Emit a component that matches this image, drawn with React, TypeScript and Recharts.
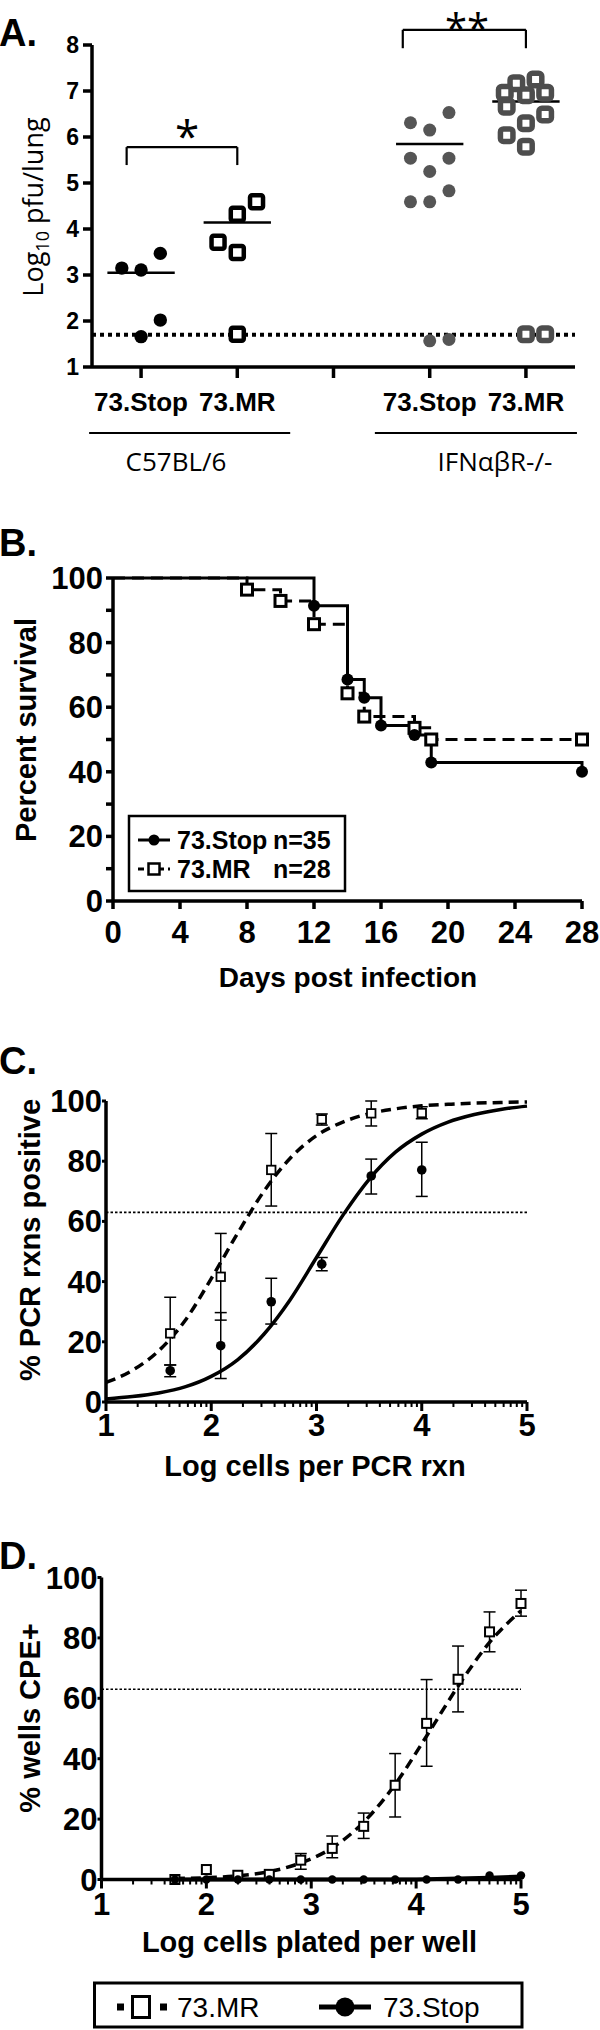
import React from 'react';
import { ComposedChart, Scatter, Line, XAxis, YAxis, ReferenceLine, ErrorBar } from 'recharts';

const FONT = "'Liberation Sans', Arial, Helvetica, sans-serif";
const SOFT = "'Open Sans', 'Liberation Sans', sans-serif";

// ---------- A. lung titres (log10 pfu/lung) ----------
const aCategoryTicks = [1, 2, 3, 4, 5];
const aCategoryLabels = ['73.Stop', '73.MR', '', '73.Stop', '73.MR'];
const aYTicks = [1, 2, 3, 4, 5, 6, 7, 8];
const c57StopX = [0.8, 1.0, 1.2, 1.2, 1.0];
const c57StopY = [3.15, 3.11, 3.47, 2.02, 1.66];
const c57MrX = [1.8, 2.0, 2.0, 2.2, 2.0];
const c57MrY = [3.71, 3.49, 4.32, 4.59, 1.71];
const ifnStopX = [3.8, 4.0, 4.2, 3.8, 4.2, 4.0, 4.2, 3.8, 4.0, 4.0, 4.2];
const ifnStopY = [6.31, 6.15, 6.53, 5.54, 5.54, 5.25, 4.83, 4.59, 4.59, 1.57, 1.6];
const ifnMrX = [5.1, 4.9, 4.78, 5.0, 5.2, 4.8, 5.2, 5.0, 4.8, 5.0, 5.0, 5.2];
const ifnMrY = [7.25, 7.17, 6.96, 6.91, 6.96, 6.66, 6.49, 6.3, 6.04, 5.79, 1.71, 1.71];
const aGroupCenters = [1, 2, 4, 5];
const aGroupMeans = [3.05, 4.14, 5.85, 6.77];
const aDetectionLimit = 1.7;

// ---------- B. survival ----------
const bDayTicks = [0, 4, 8, 12, 16, 20, 24, 28];
const bPercentTicks = [0, 10, 20, 30, 40, 50, 60, 70, 80, 90, 100];
const stopDays = [0, 12, 14, 15, 16, 18, 19, 28];
const stopSurvival = [100, 91.4, 68.6, 62.9, 54.3, 51.4, 42.9, 40];
const mrDays = [0, 8, 10, 12, 14, 15, 18, 19, 28];
const mrSurvival = [100, 96.4, 92.9, 85.7, 64.3, 57.1, 53.6, 50, 50];

// ---------- C. PCR limiting dilution ----------
const logMajor = [1, 2, 3, 4, 5];
const logMinorOffsets = [0.301, 0.477, 0.602, 0.699, 0.778, 0.845, 0.903, 0.954];
const pctTicks = [0, 20, 40, 60, 80, 100];
const pcrX = [1.61, 2.09, 2.57, 3.05, 3.52, 4.0];
const pcrMr = [22.8, 41.6, 77.1, 93.9, 95.9, 96.0];
const pcrMrHi = [34.8, 56.0, 89.2, 95.7, 100, 98.1];
const pcrMrLo = [12.3, 27.2, 65.1, 92.0, 91.7, 94.1];
const pcrStop = [10.4, 18.7, 33.3, 45.8, 75.1, 77.1];
const pcrStopHi = [12.3, 29.7, 41.1, 48.0, 80.7, 86.3];
const pcrStopLo = [8.4, 7.8, 25.9, 43.6, 69.1, 68.3];
const pcrFitX = [1, 1.25, 1.5, 1.75, 2, 2.25, 2.5, 2.75, 3, 3.25, 3.5, 3.75, 4, 4.25, 4.5, 4.75, 5];
const pcrMrFit = [6.5, 10.5, 17, 27, 41, 56, 70, 81, 88.5, 93, 95.8, 97.4, 98.4, 98.9, 99.3, 99.5, 99.7];
const pcrStopFit = [1.0, 1.8, 3.0, 5.0, 8.5, 14, 22.5, 34, 48, 62, 74, 83, 89, 93, 95.5, 97.2, 98.3];
const threshold = 63;

// ---------- D. CPE limiting dilution ----------
const cpeX = [1.7, 2.0, 2.3, 2.6, 2.9, 3.2, 3.5, 3.8, 4.1, 4.4, 4.7, 5.0];
const cpeMr = [0, 3.3, 1.4, 1.7, 6.4, 10.3, 17.6, 31.2, 51.7, 66.3, 82.0, 91.4];
const cpeMrHi = [null, null, null, null, 8.6, 14.4, 22.0, 41.7, 66.2, 77.3, 88.6, 95.8];
const cpeMrLo = [null, null, null, null, 3.4, 7.2, 13.6, 20.7, 37.5, 55.5, 75.4, 87.2];
const cpeStop = [0, 0, 0, 0, 0, 0, 0, 0, 0, 0, 1.3, 1.3];
const cpeMrFit = [0.3, 0.6, 1.2, 2.6, 5.5, 10.5, 19, 31.5, 47.5, 64, 78.5, 89];
const cpeStopFit = [0, 0, 0, 0, 0, 0, 0, 0, 0.1, 0.3, 0.6, 1.0];

const pts = (xs: number[], ys: number[]) => xs.map((x, i) => ({ x, y: ys[i] }));
const withErr = (xs: number[], ys: number[], hi: (number | null)[], lo: (number | null)[]) =>
  xs.map((x, i) => ({
    x,
    y: ys[i],
    err: hi[i] == null ? undefined : [ys[i] - (lo[i] as number), (hi[i] as number) - ys[i]],
  }));

const logTicks = [...logMajor, ...[1, 2, 3, 4].flatMap((d) => logMinorOffsets.map((o) => d + o))].sort((a, b) => a - b);

const axisStyle = { stroke: '#000', strokeWidth: 3.5 };
const bigTick = { fill: '#000', fontSize: 31, fontWeight: 700, fontFamily: FONT };

const circle = (fill: string, r: number) => (p: any) => <circle cx={p.cx} cy={p.cy} r={r} fill={fill} />;
const square = (stroke: string, s: number, sw: number, rx = 0) => (p: any) => (
  <rect x={p.cx - s / 2} y={p.cy - s / 2} width={s} height={s} rx={rx} fill="#fff" stroke={stroke} strokeWidth={sw} />
);

// log axis tick: long marks on decades, short ones between
const LogTick = (props: any) => {
  const { x, y, payload, baseline } = props;
  const v = payload.value;
  const major = Math.abs(v - Math.round(v)) < 1e-6;
  return (
    <g>
      <line x1={x} y1={y} x2={x} y2={y + (major ? 9 : 5)} stroke="#000" strokeWidth={major ? 3 : 2} />
      {major && (
        <text x={x} y={y + baseline} textAnchor="middle" fontSize={31} fontWeight={700} fontFamily={FONT} fill="#000">
          {Math.round(v)}
        </text>
      )}
    </g>
  );
};

function PanelA() {
  const seg = (x1: number, y1: number, x2: number, y2: number, w = 2.2) => (
    <ReferenceLine
      key={`${x1}-${y1}-${x2}-${y2}`}
      segment={[{ x: x1, y: y1 }, { x: x2, y: y2 }]}
      stroke="#000"
      strokeWidth={w}
      ifOverflow="visible"
    />
  );
  return (
    <ComposedChart width={600} height={440} margin={{ top: 45, right: 25, left: 0, bottom: 0 }}>
      <XAxis
        type="number"
        dataKey="x"
        domain={[0.49, 5.51]}
        ticks={aCategoryTicks}
        interval={0}
        tickFormatter={(v: number) => aCategoryLabels[aCategoryTicks.indexOf(v)]}
        height={73}
        axisLine={axisStyle}
        tickLine={axisStyle}
        tickSize={11}
        tickMargin={15}
        tick={{ fill: '#000', fontSize: 26, fontWeight: 700, fontFamily: FONT }}
      />
      <YAxis
        type="number"
        dataKey="y"
        domain={[1, 8]}
        ticks={aYTicks}
        interval={0}
        width={92}
        axisLine={axisStyle}
        tickLine={axisStyle}
        tickSize={9}
        tickMargin={4}
        tick={{ fill: '#000', fontSize: 23, fontWeight: 700, fontFamily: FONT }}
      />
      <ReferenceLine y={aDetectionLimit} stroke="#000" strokeWidth={4} strokeDasharray="4 4" />
      {aGroupCenters.map((c, i) => seg(c - 0.35, aGroupMeans[i], c + 0.35, aGroupMeans[i], 2.5))}
      {seg(0.85, 5.78, 2.0, 5.78)}
      {seg(0.85, 5.78, 0.85, 5.39)}
      {seg(2.0, 5.78, 2.0, 5.39)}
      {seg(3.72, 8.33, 5.0, 8.33)}
      {seg(3.72, 8.33, 3.72, 7.93)}
      {seg(5.0, 8.33, 5.0, 7.93)}
      {seg(0.46, -0.435, 2.55, -0.435)}
      {seg(3.43, -0.435, 5.53, -0.435)}
      <Scatter data={pts(c57StopX, c57StopY)} shape={circle('#000', 6.7)} isAnimationActive={false} />
      <Scatter data={pts(c57MrX, c57MrY)} shape={square('#000', 13, 4.5, 2)} isAnimationActive={false} />
      <Scatter data={pts(ifnStopX, ifnStopY)} shape={circle('#555', 6.5)} isAnimationActive={false} />
      <Scatter data={pts(ifnMrX, ifnMrY)} shape={square('#4d4d4d', 12.5, 5.5, 3)} isAnimationActive={false} />
    </ComposedChart>
  );
}

function PanelB() {
  const stopDot = (p: any) =>
    p.index === 0 ? <g key={`sd${p.index}`} /> : <circle key={`sd${p.index}`} cx={p.cx} cy={p.cy} r={6} fill="#000" />;
  const mrDot = (p: any) =>
    p.index === 0 ? (
      <g key={`md${p.index}`} />
    ) : (
      <rect key={`md${p.index}`} x={p.cx - 5.5} y={p.cy - 5.5} width={11} height={11} fill="#fff" stroke="#000" strokeWidth={3} />
    );
  return (
    <ComposedChart width={600} height={440} margin={{ top: 38, right: 18, left: 0, bottom: 0 }}>
      <XAxis
        type="number"
        dataKey="x"
        domain={[0, 28]}
        ticks={bDayTicks}
        interval={0}
        height={79}
        axisLine={axisStyle}
        tickLine={axisStyle}
        tickSize={8}
        tickMargin={12}
        tick={bigTick}
      />
      <YAxis
        type="number"
        dataKey="y"
        domain={[0, 100]}
        ticks={bPercentTicks}
        interval={0}
        tickFormatter={(v: number) => (v % 20 === 0 ? String(v) : '')}
        width={113}
        axisLine={axisStyle}
        tickLine={axisStyle}
        tickSize={7}
        tickMargin={3}
        tick={bigTick}
      />
      <Line
        data={pts(mrDays, mrSurvival)}
        dataKey="y"
        type="stepAfter"
        stroke="#000"
        strokeWidth={3}
        strokeDasharray="12 7"
        dot={mrDot}
        isAnimationActive={false}
      />
      <Line
        data={pts(stopDays, stopSurvival)}
        dataKey="y"
        type="stepAfter"
        stroke="#000"
        strokeWidth={3}
        dot={stopDot}
        isAnimationActive={false}
      />
    </ComposedChart>
  );
}

function DilutionPanel(props: {
  height: number;
  top: number;
  yAxisWidth: number;
  right: number;
  xAxisHeight: number;
  baseline: number;
  children: React.ReactNode;
}) {
  return (
    <ComposedChart width={600} height={props.height} margin={{ top: props.top, right: props.right, left: 0, bottom: 0 }}>
      <XAxis
        type="number"
        dataKey="x"
        domain={[1, 5]}
        ticks={logTicks}
        interval={0}
        height={props.xAxisHeight}
        axisLine={axisStyle}
        tickLine={false}
        tickSize={0}
        tickMargin={0}
        tick={(p: any) => <LogTick {...p} baseline={props.baseline} />}
      />
      <YAxis
        type="number"
        dataKey="y"
        domain={[0, 100]}
        ticks={pctTicks}
        interval={0}
        width={props.yAxisWidth}
        axisLine={axisStyle}
        tickLine={{ stroke: '#000', strokeWidth: 3 }}
        tickSize={4}
        tickMargin={0}
        tick={bigTick}
      />
      <ReferenceLine y={threshold} stroke="#000" strokeWidth={1.6} strokeDasharray="2.5 2" />
      {props.children}
    </ComposedChart>
  );
}

function PanelC() {
  return (
    <DilutionPanel height={420} top={21} yAxisWidth={106} right={73} xAxisHeight={98} baseline={34}>
      <Line data={pts(pcrFitX, pcrMrFit)} dataKey="y" type="monotone" stroke="#000" strokeWidth={3.5} strokeDasharray="10 6" dot={false} isAnimationActive={false} />
      <Line data={pts(pcrFitX, pcrStopFit)} dataKey="y" type="monotone" stroke="#000" strokeWidth={3.5} dot={false} isAnimationActive={false} />
      <Scatter data={withErr(pcrX, pcrMr, pcrMrHi, pcrMrLo)} shape={square('#000', 8.5, 1.8)} isAnimationActive={false}>
        <ErrorBar dataKey="err" direction="y" width={6} stroke="#000" strokeWidth={1.5} />
      </Scatter>
      <Scatter data={withErr(pcrX, pcrStop, pcrStopHi, pcrStopLo)} shape={circle('#000', 4.8)} isAnimationActive={false}>
        <ErrorBar dataKey="err" direction="y" width={6} stroke="#000" strokeWidth={1.5} />
      </Scatter>
    </DilutionPanel>
  );
}

function PanelD() {
  return (
    <DilutionPanel height={400} top={37.5} yAxisWidth={101.5} right={79} xAxisHeight={60.5} baseline={35}>
      <Line data={pts(cpeX, cpeMrFit)} dataKey="y" type="monotone" stroke="#000" strokeWidth={3.5} strokeDasharray="10 6" dot={false} isAnimationActive={false} />
      <Line data={pts(cpeX, cpeStopFit)} dataKey="y" type="monotone" stroke="#000" strokeWidth={4} dot={false} isAnimationActive={false} />
      <Scatter data={withErr(cpeX, cpeMr, cpeMrHi, cpeMrLo)} shape={square('#000', 9, 2)} isAnimationActive={false}>
        <ErrorBar dataKey="err" direction="y" width={6} stroke="#000" strokeWidth={1.5} />
      </Scatter>
      <Scatter data={pts(cpeX, cpeStop)} shape={circle('#000', 4.2)} isAnimationActive={false} />
    </DilutionPanel>
  );
}

// text helper for the overlay (cap-centred placement)
const T = (p: { x: number; y: number; s: number; bold?: boolean; soft?: boolean; anchor?: string; rot?: boolean; children: React.ReactNode }) => {
  const base = p.y + (p.soft ? 0.357 : 0.358) * p.s;
  return (
    <text
      x={p.x}
      y={base}
      fontSize={p.s}
      fontWeight={p.bold ? 700 : 400}
      fontFamily={p.soft ? SOFT : FONT}
      textAnchor={(p.anchor as any) || 'middle'}
      fill="#000"
      transform={p.rot ? `rotate(-90 ${p.x} ${p.y})` : undefined}
    >
      {p.children}
    </text>
  );
};

function Overlay() {
  return (
    <svg width={600} height={2030} style={{ position: 'absolute', left: 0, top: 0, pointerEvents: 'none' }}>
      <T x={-1} y={32} s={38} bold anchor="start">A.</T>
      <T x={-1} y={542} s={38} bold anchor="start">B.</T>
      <T x={-1} y={1060} s={38} bold anchor="start">C.</T>
      <T x={-1} y={1555} s={38} bold anchor="start">D.</T>

      {/* A */}
      <text x={187} y={152} fontSize={44} fontFamily={SOFT} textAnchor="middle">*</text>
      <text x={467} y={43} fontSize={40} fontFamily={SOFT} textAnchor="middle">**</text>
      <T x={33} y={207} s={27} soft rot>
        Log<tspan fontSize={18} dy={6}>10</tspan>
        <tspan dy={-6}> pfu/lung</tspan>
      </T>
      <T x={176} y={462} s={26} soft>C57BL/6</T>
      <T x={495} y={462} s={26} soft>IFNαβR-/-</T>

      {/* B */}
      <T x={26} y={730} s={29} bold rot>Percent survival</T>
      <T x={348} y={977} s={28} bold>Days post infection</T>
      <rect x={129} y={816} width={216} height={75} fill="#fff" stroke="#000" strokeWidth={2.5} />
      <line x1={138} x2={170} y1={840} y2={840} stroke="#000" strokeWidth={3} />
      <circle cx={154} cy={840} r={5.5} fill="#000" />
      <T x={177} y={840} s={25} bold anchor="start">73.Stop</T>
      <T x={273} y={840} s={25} bold anchor="start">n=35</T>
      <line x1={138} x2={170} y1={869} y2={869} stroke="#000" strokeWidth={3} strokeDasharray="6 4" />
      <rect x={148.5} y={863.5} width={11} height={11} fill="#fff" stroke="#000" strokeWidth={2.5} />
      <T x={177} y={869} s={25} bold anchor="start">73.MR</T>
      <T x={273} y={869} s={25} bold anchor="start">n=28</T>

      {/* C */}
      <T x={30} y={1240} s={29} bold rot>% PCR rxns positive</T>
      <T x={315} y={1466} s={29} bold>Log cells per PCR rxn</T>

      {/* D */}
      <T x={30} y={1718} s={29} bold rot>% wells CPE+</T>
      <T x={309.5} y={1942} s={29} bold>Log cells plated per well</T>
      <rect x={94.5} y={1983} width={427.5} height={44} fill="#fff" stroke="#000" strokeWidth={3} />
      <rect x={117} y={2003.5} width={7} height={7} fill="#000" />
      <rect x={132.5} y={1996.5} width={17} height={21} fill="#fff" stroke="#000" strokeWidth={3} />
      <rect x={160} y={2003.5} width={7} height={7} fill="#000" />
      <T x={177} y={2007} s={28} anchor="start">73.MR</T>
      <line x1={319} x2={371} y1={2007} y2={2007} stroke="#000" strokeWidth={5} />
      <circle cx={345} cy={2007} r={9.5} fill="#000" />
      <T x={383} y={2007} s={28} anchor="start">73.Stop</T>
    </svg>
  );
}

export default function App() {
  return (
    <div style={{ position: 'absolute', left: 0, top: 0, width: 600, height: 2030, background: '#fff', overflow: 'hidden' }}>
      <div style={{ position: 'absolute', left: 0, top: 0 }}>
        <PanelA />
      </div>
      <div style={{ position: 'absolute', left: 0, top: 540 }}>
        <PanelB />
      </div>
      <div style={{ position: 'absolute', left: 0, top: 1080 }}>
        <PanelC />
      </div>
      <div style={{ position: 'absolute', left: 0, top: 1540 }}>
        <PanelD />
      </div>
      <Overlay />
    </div>
  );
}
